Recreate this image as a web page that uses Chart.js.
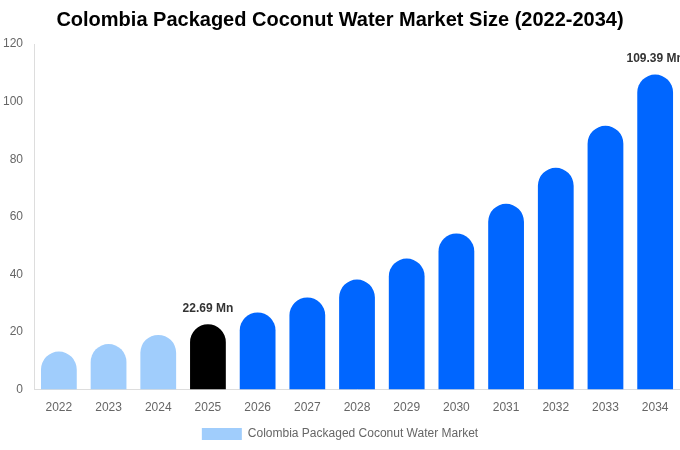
<!DOCTYPE html>
<html>
<head>
<meta charset="utf-8">
<script src="https://cdn.jsdelivr.net/npm/chart.js@4"></script>
<style>
  html, body { margin: 0; padding: 0; background: #fff; }
  #wrap { width: 680px; height: 450px; }
</style>
</head>
<body>
<div id="wrap"><canvas id="chart"></canvas></div>
<script>
const years = ['2022','2023','2024','2025','2026','2027','2028','2029','2030','2031','2032','2033','2034'];
const marketSize = [13.2, 15.8, 19.0, 22.69, 26.8, 32.0, 38.2, 45.5, 54.2, 64.5, 77.0, 91.6, 109.39];
const barColors = ['#a0cdfc','#a0cdfc','#a0cdfc','#000000','#0066ff','#0066ff','#0066ff','#0066ff','#0066ff','#0066ff','#0066ff','#0066ff','#0066ff'];
const labelledYears = ['2025', '2034'];
const yTicks = [0, 20, 40, 60, 80, 100, 120];

// draws "xx.xx Mn" over the highlighted bars
const valueLabels = {
  id: 'valueLabels',
  afterDatasetsDraw(chart) {
    const ctx = chart.ctx;
    const meta = chart.getDatasetMeta(0);
    ctx.save();
    ctx.font = 'bold 12px "Liberation Sans", Arial, sans-serif';
    ctx.fillStyle = '#333333';
    ctx.textAlign = 'center';
    ctx.textBaseline = 'bottom';
    meta.data.forEach((bar, i) => {
      if (!labelledYears.includes(years[i])) return;
      ctx.fillText(marketSize[i].toFixed(2) + ' Mn', bar.x, bar.y - 10);
    });
    ctx.restore();
  }
};

new Chart(document.getElementById('chart'), {
  type: 'bar',
  data: {
    labels: years,
    datasets: [{
      label: 'Colombia Packaged Coconut Water Market',
      data: marketSize,
      backgroundColor: barColors,
      borderRadius: { topLeft: 18, topRight: 18 },
      borderSkipped: 'bottom',
      barPercentage: 0.8,
      categoryPercentage: 0.9
    }]
  },
  options: {
    responsive: true, maintainAspectRatio: false,
    animation: false,
    layout: { padding: { left: 0, right: 0, top: 0, bottom: 0 } },
    plugins: {
      title: {
        display: true,
        text: 'Colombia Packaged Coconut Water Market Size (2022-2034)',
        color: '#000',
        font: { family: '"Liberation Sans", Arial, sans-serif', size: 20, weight: 'bold' },
        padding: { top: 8, bottom: 12 }
      },
      legend: {
        position: 'bottom',
        labels: {
          color: '#666',
          font: { family: '"Liberation Sans", Arial, sans-serif', size: 12 },
          boxWidth: 40, boxHeight: 12,
          generateLabels: (chart) => [{
            text: chart.data.datasets[0].label,
            fillStyle: barColors[0], strokeStyle: barColors[0], lineWidth: 0,
            fontColor: '#666',
            datasetIndex: 0
          }]
        }
      },
      tooltip: { enabled: false }
    },
    scales: {
      x: {
        grid: { display: false },
        border: { display: true, color: '#dddddd' },
        ticks: { color: '#666', font: { family: '"Liberation Sans", Arial, sans-serif', size: 12 } }
      },
      y: {
        min: 0, max: 120,
        afterBuildTicks: (axis) => { axis.ticks = yTicks.map(v => ({ value: v })); },
        grid: { display: false },
        border: { display: true, color: '#dddddd' },
        ticks: { color: '#666', font: { family: '"Liberation Sans", Arial, sans-serif', size: 12 } }
      }
    }
  },
  plugins: [valueLabels]
});
</script>
</body>
</html>
